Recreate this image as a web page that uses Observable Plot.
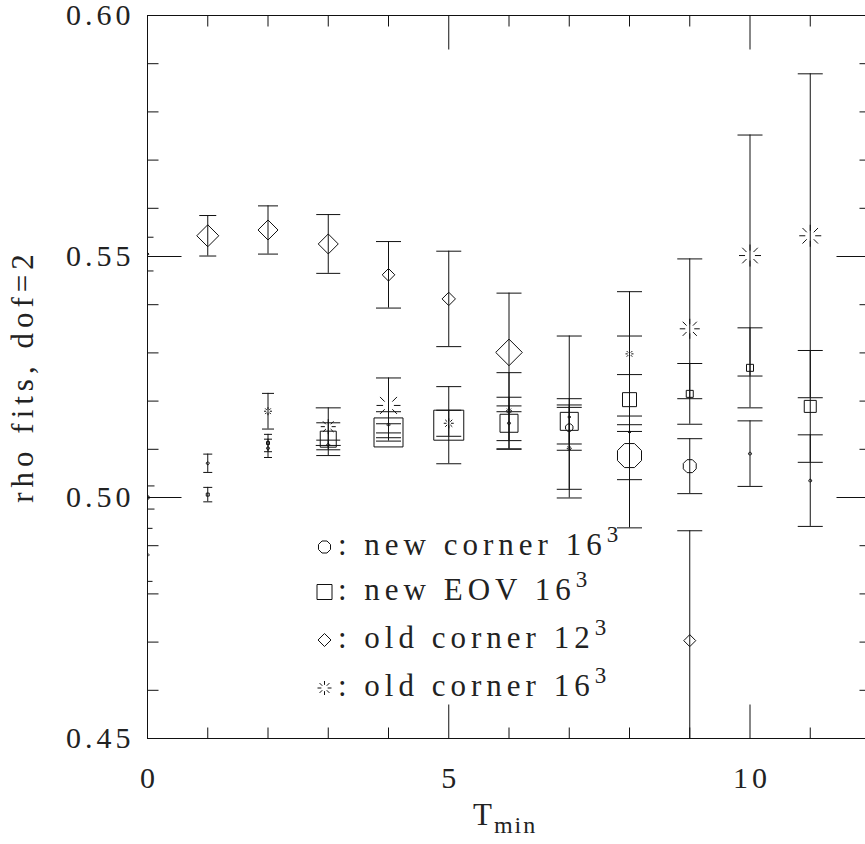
<!DOCTYPE html>
<html>
<head>
<meta charset="utf-8">
<script src="https://cdn.jsdelivr.net/npm/d3@7"></script>
<script src="https://cdn.jsdelivr.net/npm/@observablehq/plot@0.6"></script>
<style>
  html, body { margin: 0; padding: 0; overflow: hidden; background: #fff; }
  #chart svg { max-width: none !important; width: 880px !important; height: 844px !important; display: block; }
  #chart svg text { letter-spacing: 4px; }
</style>
</head>
<body>
<div id="chart"></div>
<script>
// ---------------- data ----------------
// new corner 16^3 (octagon / "circle")
const circleX    = [0, 1, 2, 3, 4, 6, 7, 8, 9, 10, 11];
const circleY    = [0.4881, 0.5071, 0.5102, 0.5109, 0.5151, 0.5154, 0.5145, 0.5087, 0.5065, 0.5091, 0.5035];
const circleErr  = [0.0055, 0.0019, 0.0019, 0.0010, 0.0027, 0.0036, 0.0047, 0.0050, 0.0057, 0.0068, 0.0095];
const circleSize = [1.5, 1.5, 1.5, 1.5, 1.5, 1.5, 4, 13, 7, 1.5, 1.5];
const circleCap  = [10, 9, 8, 24, 25, 25, 25, 25, 25, 25, 25];

// new EOV 16^3 (square)
const squareX    = [0, 1, 2, 3, 4, 5, 6, 7, 8, 9, 10, 11];
const squareY    = [0.5000, 0.5006, 0.5113, 0.5121, 0.5135, 0.5150, 0.5154, 0.5158, 0.5203, 0.5215, 0.5269, 0.5189];
const squareErr  = [0.0024, 0.0015, 0.0018, 0.0034, 0.0018, 0.0080, 0.0054, 0.0047, 0.0052, 0.0063, 0.0083, 0.0116];
const squareSize = [1.5, 1.5, 1.5, 8, 14.5, 15, 9, 9, 7, 3.5, 3.5, 6];
const squareCap  = [14, 9, 8, 24, 25, 25, 25, 25, 25, 25, 25, 25];

// old corner 12^3 (diamond)
const diamondX    = [0, 1, 2, 3, 4, 5, 6, 7, 8, 9];
const diamondY    = [0.5505, 0.5543, 0.5555, 0.5526, 0.5462, 0.5412, 0.5301, 0.5167, 0.5136, 0.4703];
const diamondErr  = [0.0035, 0.0042, 0.0050, 0.0061, 0.0069, 0.0099, 0.0123, 0.0168, 0.0199, 0.0228];
const diamondSize = [1.5, 11, 10, 10, 6.3, 6.7, 13.3, 1.5, 1.5, 6];
const diamondCap  = [12, 17, 20, 24, 25, 25, 25, 25, 25, 25];

// old corner 16^3 (burst)
const burstX    = [2, 3, 4, 5, 6, 7, 8, 9, 10, 11];
const burstY    = [0.5179, 0.5147, 0.5191, 0.5154, 0.5180, 0.5102, 0.5298, 0.5350, 0.5502, 0.5543];
const burstErr  = [0.0037, 0.0039, 0.0057, 0.0027, 0.0079, 0.0085, 0.0129, 0.0145, 0.0250, 0.0336];
const burstSize = [4, 7.5, 12, 5, 3, 2.5, 4, 10, 11, 11];
const burstCap  = [12, 25, 25, 25, 25, 25, 25, 25, 25, 25];

// axes
const xMajor = [0, 5, 10];
const xMinor = [1, 2, 3, 4, 6, 7, 8, 9, 11];
const yMajor = [0.45, 0.50, 0.55, 0.60];
const yMinor = [0.46, 0.47, 0.48, 0.49, 0.51, 0.52, 0.53, 0.54, 0.56, 0.57, 0.58, 0.59];
const xLabel = "T";
const xLabelSub = "min";
const yLabel = "rho fits, dof=2";
const legendLabels = ["new corner 16", "new EOV 16", "old corner 12", "old corner 16"];
const legendSup = "3";

// ---------------- symbols ----------------
const sym = (fn) => ({draw(c, size) { fn(c, Math.sqrt(size / Math.PI)); }});
const octagon = sym((c, r) => {
  for (let i = 0; i < 8; i++) {
    const a = Math.PI / 8 + i * Math.PI / 4;
    const px = r * Math.cos(a), py = r * Math.sin(a);
    if (i) c.lineTo(px, py); else c.moveTo(px, py);
  }
  c.closePath();
});
const squareSym = sym((c, r) => { c.moveTo(-r, -r); c.lineTo(r, -r); c.lineTo(r, r); c.lineTo(-r, r); c.closePath(); });
const diamondSym = sym((c, r) => { c.moveTo(0, -r); c.lineTo(r, 0); c.lineTo(0, r); c.lineTo(-r, 0); c.closePath(); });
const burstSym = sym((c, r) => {
  for (let i = 0; i < 8; i++) {
    const a = i * Math.PI / 4, cs = Math.cos(a), sn = Math.sin(a);
    c.moveTo(0.45 * r * cs, 0.45 * r * sn); c.lineTo(r * cs, r * sn);
  }
});
const hline = sym((c, r) => { c.moveTo(-r, 0); c.lineTo(r, 0); });
const tickRight = sym((c, r) => { c.moveTo(0, 0); c.lineTo(r, 0); });
const tickLeft = sym((c, r) => { c.moveTo(0, 0); c.lineTo(-r, 0); });
const tickUp = sym((c, r) => { c.moveTo(0, 0); c.lineTo(0, -r); });
const tickDown = sym((c, r) => { c.moveTo(0, 0); c.lineTo(0, r); });

const build = (X, Y, E, S, C) => X.map((x, i) => ({x, y: Y[i], lo: Y[i] - E[i], hi: Y[i] + E[i], size: S[i], cap: C[i] / 2}));
const series = [
  {data: build(circleX, circleY, circleErr, circleSize, circleCap), symbol: octagon},
  {data: build(squareX, squareY, squareErr, squareSize, squareCap), symbol: squareSym},
  {data: build(diamondX, diamondY, diamondErr, diamondSize, diamondCap), symbol: diamondSym},
  {data: build(burstX, burstY, burstErr, burstSize, burstCap), symbol: burstSym}
];

const ink = "#111";
const marks = [];
for (const s of series) {
  marks.push(Plot.ruleX(s.data, {x: "x", y1: "lo", y2: "hi", stroke: ink, strokeWidth: 1, clip: true}));
  marks.push(Plot.dot(s.data, {x: "x", y: "lo", r: "cap", symbol: hline, stroke: ink, strokeWidth: 1, clip: true}));
  marks.push(Plot.dot(s.data, {x: "x", y: "hi", r: "cap", symbol: hline, stroke: ink, strokeWidth: 1, clip: true}));
}
for (const s of series) {
  marks.push(Plot.dot(s.data, {x: "x", y: "y", r: "size", symbol: s.symbol, stroke: ink, strokeWidth: 1, fill: "none", clip: true}));
}
// ticks pointing inward on all four sides
const tk = {stroke: ink, strokeWidth: 1};
marks.push(
  Plot.dot(yMajor, {y: d => d, frameAnchor: "left", r: 34, symbol: tickRight, ...tk}),
  Plot.dot(yMinor, {y: d => d, frameAnchor: "left", r: 11, symbol: tickRight, ...tk}),
  Plot.dot(yMajor, {y: d => d, frameAnchor: "right", r: 34, symbol: tickLeft, ...tk}),
  Plot.dot(yMinor, {y: d => d, frameAnchor: "right", r: 11, symbol: tickLeft, ...tk}),
  Plot.dot(xMajor, {x: d => d, frameAnchor: "bottom", r: 34, symbol: tickUp, ...tk}),
  Plot.dot(xMinor, {x: d => d, frameAnchor: "bottom", r: 11, symbol: tickUp, ...tk}),
  Plot.dot(xMajor, {x: d => d, frameAnchor: "top", r: 34, symbol: tickDown, ...tk}),
  Plot.dot(xMinor, {x: d => d, frameAnchor: "top", r: 11, symbol: tickDown, ...tk}),
  Plot.frame({stroke: ink, strokeWidth: 1}),
  Plot.axisY({ticks: yMajor, tickSize: 0, tickPadding: 13, tickFormat: d3.format(".2f"), label: null, fill: "#222"}),
  Plot.axisX({ticks: xMajor, tickSize: 0, tickPadding: 28, tickFormat: d => String(d), label: null, dx: 2, fill: "#222"})
);

const chart = Plot.plot({
  width: 880,
  height: 844,
  marginLeft: 147,
  marginRight: 10,
  marginTop: 15,
  marginBottom: 106,
  x: {domain: [0, 12]},
  y: {domain: [0.45, 0.60]},
  r: {type: "linear", domain: [0, 40], range: [0, 40]},
  style: {fontFamily: "'Liberation Serif', serif", fontSize: "30px", background: "#fff", color: ink},
  marks
});
document.getElementById("chart").appendChild(chart);

// ---------------- labels & legend ----------------
const svg = d3.select(chart);
svg.append("text")
  .attr("transform", "translate(33,376) rotate(-90)")
  .attr("text-anchor", "middle")
  .attr("font-size", 31)
  .attr("fill", "#222")
  .style("letter-spacing", "5px")
  .text(yLabel);

const xl = svg.append("text")
  .attr("x", 473).attr("y", 825)
  .attr("text-anchor", "start")
  .attr("font-size", 31)
  .attr("fill", "#222")
  .style("letter-spacing", "2px");
xl.append("tspan").text(xLabel);
xl.append("tspan").attr("dy", 8).attr("font-size", 24).text(xLabelSub);

const legendSyms = [[octagon, 6.5], [squareSym, 7.5], [diamondSym, 6.5], [burstSym, 7]];
const legendBase = [555, 600, 648, 696];
legendLabels.forEach((lab, i) => {
  const base = legendBase[i];
  const [s, r] = legendSyms[i];
  svg.append("path")
    .attr("d", d3.symbol().type(s).size(Math.PI * r * r)())
    .attr("transform", `translate(324.5,${base - 8})`)
    .attr("fill", "none").attr("stroke", ink).attr("stroke-width", 1);
  const t = svg.append("text")
    .attr("x", 338).attr("y", base)
    .attr("text-anchor", "start")
    .attr("font-size", 31)
    .attr("fill", "#222")
    .style("letter-spacing", "5px");
  t.append("tspan").text(": " + lab);
  t.append("tspan").attr("dy", -13).attr("font-size", 23).text(legendSup);
});
</script>
</body>
</html>
